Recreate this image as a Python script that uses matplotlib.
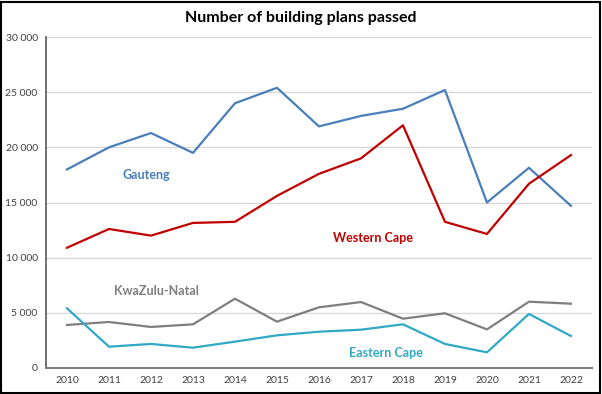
import matplotlib.pyplot as plt
from matplotlib.patches import Rectangle
from matplotlib.ticker import FuncFormatter

plt.rcParams['font.family'] = ['Lato', 'DejaVu Sans']

years = [str(y) for y in range(2010, 2023)]
gauteng = [18000, 20000, 21300, 19500, 24000, 25400, 21900, 22850, 23500, 25200, 15000, 18150, 14700]
western_cape = [10900, 12600, 12000, 13150, 13250, 15600, 17600, 19000, 22000, 13250, 12150, 16700, 19300]
kzn = [3900, 4170, 3720, 3960, 6280, 4200, 5500, 5980, 4470, 4960, 3500, 6010, 5830]
eastern_cape = [5410, 1930, 2180, 1840, 2390, 2960, 3290, 3470, 3960, 2180, 1420, 4900, 2900]

# name, values, colour, label x (category index), label y
series = [
    ('Gauteng', gauteng, '#4a7ebb', 1.9, 17500),
    ('Western Cape', western_cape, '#c00000', 7.29, 11800),
    ('KwaZulu-Natal', kzn, '#7f7f7f', 2.14, 6950),
    ('Eastern Cape', eastern_cape, '#31a9c4', 7.6, 1370),
]

fig = plt.figure(figsize=(6.02, 3.94), dpi=100)
ax = fig.add_axes([0.0764, 0.066, 0.9069, 0.840])

x = list(range(len(years)))
for name, vals, col, lx, ly in series:
    ax.plot(x, vals, color=col, lw=1.6, zorder=3)
    ax.text(lx, ly, name, color=col, fontsize=9, fontweight='bold',
            ha='center', va='center')

ax.set_xlim(-0.5, len(years) - 0.5)
ax.set_ylim(0, 30000)
ax.set_yticks(range(0, 30001, 5000))
ax.yaxis.set_major_formatter(FuncFormatter(lambda v, p: f'{int(v):,}'.replace(',', ' ')))
ax.set_xticks(x)
ax.set_xticklabels(years)
ax.tick_params(axis='both', length=0, labelsize=7.5, labelcolor='#404040', pad=6)
ax.grid(axis='y', color='#d9d9d9', lw=1)
ax.set_axisbelow(True)
for s in ['top', 'right']:
    ax.spines[s].set_visible(False)
ax.spines['left'].set_color('#595959')
ax.spines['bottom'].set_color('#808080')
ax.spines['left'].set_linewidth(1.2)
ax.spines['bottom'].set_linewidth(1.5)

fig.text(0.5, 0.955, 'Number of building plans passed', ha='center', va='center',
         fontsize=11.5, fontweight='bold', color='black')

fig.patches.append(Rectangle((0.002, 0.003), 0.995, 0.993, transform=fig.transFigure,
                             fill=False, edgecolor='black', lw=1.5))

fig.savefig('out.png', dpi=100)
